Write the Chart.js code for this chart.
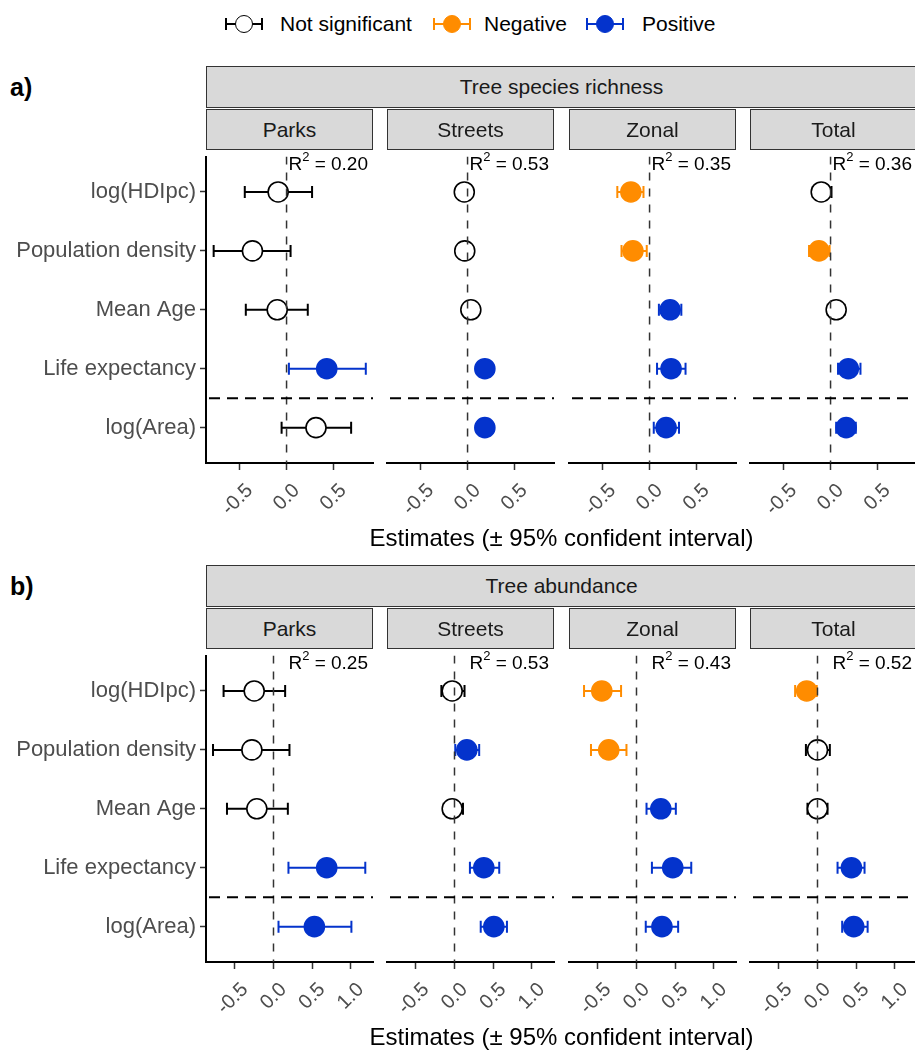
<!DOCTYPE html>
<html><head><meta charset="utf-8">
<script src="https://cdn.jsdelivr.net/npm/chart.js@4.4.0/dist/chart.umd.min.js"></script>
<style>
body{margin:0;background:#fff;width:915px;height:1050px;overflow:hidden;position:relative;font-family:"Liberation Sans",Arial,Helvetica,sans-serif;}
.strip{position:absolute;box-sizing:border-box;background:#d9d9d9;border:1px solid #333;display:flex;align-items:center;justify-content:center;font-size:21px;color:#1a1a1a;white-space:nowrap;}
.txt{position:absolute;white-space:nowrap;}
.r2{position:absolute;font-size:19px;color:#000;white-space:nowrap;text-align:right;line-height:20px;}
.r2 sup{font-size:13px;position:relative;top:-2px;vertical-align:top;line-height:10px;}
canvas{position:absolute;}
.lsym{position:absolute;width:38px;height:20px;}
.lsym .ln{position:absolute;left:0;top:9px;width:38px;height:2px;}
.lsym .cap{position:absolute;top:4px;width:2px;height:12px;}
.lsym .dot{position:absolute;left:10px;top:1px;width:18px;height:18px;box-sizing:border-box;border-radius:50%;border:1.6px solid;}
</style></head><body>
<script>
// ---------- data ----------
const rows = ['log(HDIpc)', 'Population density', 'Mean Age', 'Life expectancy', 'log(Area)'];
const facets = ['Parks', 'Streets', 'Zonal', 'Total'];
const legendLabels = ['Not significant', 'Negative', 'Positive'];
const responses = ['Tree species richness', 'Tree abundance'];
const panelLetters = ['a)', 'b)'];
const axisTitle = 'Estimates (\u00B1 95% confident interval)';

const richnessTicks = [-0.5, 0, 0.5];
const abundanceTicks = [-0.5, 0, 0.5, 1.0];
const richnessR2 = ['0.20', '0.53', '0.35', '0.36'];
const abundanceR2 = ['0.25', '0.53', '0.43', '0.52'];

const richnessEstimate = [
  [-0.09, -0.365, -0.10, 0.43, 0.315],
  [-0.035, -0.03, 0.035, 0.185, 0.185],
  [-0.20, -0.178, 0.22, 0.23, 0.177],
  [-0.10, -0.124, 0.06, 0.19, 0.167]
];
const richnessLower = [
  [-0.447, -0.78, -0.436, 0.025, -0.053],
  [-0.08, -0.08, -0.01, 0.13, 0.13],
  [-0.345, -0.30, 0.10, 0.08, 0.045],
  [-0.19, -0.23, -0.03, 0.08, 0.06]
];
const richnessUpper = [
  [0.273, 0.043, 0.227, 0.848, 0.691],
  [0.01, 0.02, 0.08, 0.24, 0.24],
  [-0.065, -0.03, 0.34, 0.385, 0.315],
  [0.01, -0.01, 0.15, 0.32, 0.27]
];
const richnessEffect = [
  ['ns', 'ns', 'ns', 'pos', 'ns'],
  ['ns', 'ns', 'ns', 'pos', 'pos'],
  ['neg', 'neg', 'pos', 'pos', 'pos'],
  ['ns', 'neg', 'ns', 'pos', 'pos']
];

const abundanceEstimate = [
  [-0.25, -0.28, -0.216, 0.69, 0.53],
  [-0.03, 0.16, -0.03, 0.38, 0.51],
  [-0.45, -0.36, 0.315, 0.47, 0.33],
  [-0.14, 0.0, 0.0, 0.44, 0.47]
];
const abundanceLower = [
  [-0.647, -0.784, -0.603, 0.194, 0.065],
  [-0.17, 0.01, -0.14, 0.20, 0.34],
  [-0.68, -0.59, 0.13, 0.20, 0.12],
  [-0.29, -0.15, -0.13, 0.26, 0.32]
];
const abundanceUpper = [
  [0.151, 0.207, 0.186, 1.19, 1.01],
  [0.13, 0.32, 0.11, 0.58, 0.68],
  [-0.20, -0.13, 0.51, 0.71, 0.54],
  [-0.01, 0.16, 0.13, 0.61, 0.65]
];
const abundanceEffect = [
  ['ns', 'ns', 'ns', 'pos', 'pos'],
  ['ns', 'pos', 'ns', 'pos', 'pos'],
  ['neg', 'neg', 'pos', 'pos', 'pos'],
  ['neg', 'ns', 'ns', 'pos', 'pos']
];

// ---------- styling ----------
const STROKE = {ns: '#000000', neg: '#FF8C00', pos: '#0433CC'};
const FILL = {ns: '#FFFFFF', neg: '#FF8C00', pos: '#0433CC'};
const FONT = '"Liberation Sans", Arial, Helvetica, sans-serif';

const blocks = [
  {title: responses[0], letter: panelLetters[0], est: richnessEstimate, lo: richnessLower, hi: richnessUpper,
   eff: richnessEffect, r2: richnessR2, ticks: richnessTicks, range: [-0.862, 0.925], top: 150},
  {title: responses[1], letter: panelLetters[1], est: abundanceEstimate, lo: abundanceLower, hi: abundanceUpper,
   eff: abundanceEffect, r2: abundanceR2, ticks: abundanceTicks, range: [-0.875, 1.29], top: 649}
];
const PANEL_LEFT = [206, 387, 569, 750];
const PANEL_W = 167;
const PLOT_H = 313;
const XAXIS_H = 80;

function el(tag, cls, css, html) {
  const e = document.createElement(tag);
  if (cls) e.className = cls;
  Object.assign(e.style, css || {});
  if (html !== undefined) e.innerHTML = html;
  document.body.appendChild(e);
  return e;
}

// legend
const legendKeys = ['ns', 'neg', 'pos'];
const symX = [225, 433, 586];
const textX = [280, 484, 642];
legendKeys.forEach((k, i) => {
  const s = el('div', 'lsym', {left: symX[i] + 'px', top: '14px'});
  s.innerHTML = '<div class="ln" style="background:' + STROKE[k] + '"></div>' +
    '<div class="cap" style="left:0;background:' + STROKE[k] + '"></div>' +
    '<div class="cap" style="left:36px;background:' + STROKE[k] + '"></div>' +
    '<div class="dot" style="border-color:' + STROKE[k] + ';background:' + FILL[k] + '"></div>';
  el('div', 'txt', {left: textX[i] + 'px', top: '11px', fontSize: '21px', lineHeight: '26px', color: '#000'}, legendLabels[i]);
});

const errorBarPlugin = {
  id: 'errorBars',
  beforeDatasetsDraw(chart) {
    const ds = chart.data.datasets[0];
    const xs = chart.scales.x, ys = chart.scales.y;
    const ctx = chart.ctx;
    ctx.save();
    ds.lower.forEach((lo, i) => {
      const y = ys.getPixelForValue(i + 1);
      const x1 = xs.getPixelForValue(lo);
      const x2 = xs.getPixelForValue(ds.upper[i]);
      ctx.strokeStyle = STROKE[ds.effect[i]];
      ctx.lineWidth = 2;
      ctx.setLineDash([]);
      ctx.beginPath();
      ctx.moveTo(x1, y); ctx.lineTo(x2, y);
      ctx.moveTo(x1, y - 6); ctx.lineTo(x1, y + 6);
      ctx.moveTo(x2, y - 6); ctx.lineTo(x2, y + 6);
      ctx.stroke();
    });
    ctx.restore();
  }
};
const refLinePlugin = {
  id: 'refLines',
  afterDatasetsDraw(chart) {
    const xs = chart.scales.x, ys = chart.scales.y;
    const a = chart.chartArea;
    const ctx = chart.ctx;
    ctx.save();
    ctx.beginPath(); ctx.rect(a.left, a.top, a.right - a.left, a.bottom - a.top); ctx.clip();
    const x0 = xs.getPixelForValue(0);
    ctx.strokeStyle = '#333'; ctx.lineWidth = 1.5; ctx.setLineDash([8, 8]);
    ctx.beginPath(); ctx.moveTo(x0, a.top); ctx.lineTo(x0, a.bottom); ctx.stroke();
    const yh = ys.getPixelForValue(4.5);
    ctx.strokeStyle = '#000'; ctx.lineWidth = 2; ctx.setLineDash([11, 7]);
    ctx.beginPath(); ctx.moveTo(a.left + 3, yh); ctx.lineTo(a.right, yh); ctx.stroke();
    ctx.restore();
  }
};

blocks.forEach((b) => {
  const T = b.top;
  // letter
  el('div', 'txt', {left: '10px', top: (T - 78) + 'px', fontSize: '25px', fontWeight: 'bold', lineHeight: '30px'}, b.letter);
  // top strip
  el('div', 'strip', {left: '206px', top: (T - 84) + 'px', width: '711px', height: '42px'}, b.title);
  facets.forEach((f, k) => {
    const L = PANEL_LEFT[k];
    el('div', 'strip', {left: L + 'px', top: (T - 41) + 'px', width: PANEL_W + 'px', height: '41px'}, f);
    // canvas
    const cv = document.createElement('canvas');
    const padL = k === 0 ? 0 : 50;
    const cLeft = k === 0 ? 0 : L - padL;
    const cW = (k === 0 ? L : padL) + PANEL_W + 20;
    cv.width = cW; cv.height = 5 + PLOT_H + XAXIS_H;
    cv.style.left = cLeft + 'px'; cv.style.top = (T - 5) + 'px';
    document.body.appendChild(cv);
    const est = b.est[k];
    const isFirst = k === 0;
    new Chart(cv, {
      type: 'scatter',
      data: {
        datasets: [{
          data: est.map((v, i) => ({x: v, y: i + 1})),
          lower: b.lo[k], upper: b.hi[k], effect: b.eff[k],
          pointRadius: 10, pointHoverRadius: 10, pointBorderWidth: 1.6,
          pointBackgroundColor: b.eff[k].map(e => FILL[e]),
          pointBorderColor: b.eff[k].map(e => STROKE[e]),
          showLine: false, clip: false
        }]
      },
      options: {
        responsive: false, animation: false, events: [], devicePixelRatio: 1,
        layout: {padding: {left: padL, right: 20, top: 5, bottom: 0}},
        plugins: {legend: {display: false}, tooltip: {enabled: false}},
        scales: {
          x: {
            type: 'linear', position: 'bottom', min: b.range[0], max: b.range[1],
            afterBuildTicks: s => { s.ticks = b.ticks.map(v => ({value: v})); },
            afterFit: s => { s.height = XAXIS_H; s.paddingLeft = 0; s.paddingRight = 0; },
            ticks: {autoSkip: false, minRotation: 45, maxRotation: 45, padding: 9, labelOffset: 10, color: '#4D4D4D',
              font: {family: FONT, size: 20}, callback: v => Number(v).toFixed(1)},
            grid: {drawOnChartArea: false, drawTicks: true, tickLength: 7, tickWidth: 1.5, tickColor: '#333'},
            border: {display: true, color: '#000', width: 2}
          },
          y: {
            type: 'linear', reverse: true, min: 0.4, max: 5.6, display: isFirst,
            afterBuildTicks: s => { s.ticks = rows.map((r, i) => ({value: i + 1})); },
            afterFit: s => { if (isFirst) { s.width = L; } s.paddingTop = 0; s.paddingBottom = 0; },
            ticks: {autoSkip: false, padding: 4, color: '#4D4D4D', font: {family: FONT, size: 22},
              callback: v => rows[Math.round(v) - 1]},
            grid: {drawOnChartArea: false, drawTicks: true, tickLength: 6, tickWidth: 1.5, tickColor: '#333'},
            border: {display: true, color: '#000', width: 2}
          }
        }
      },
      plugins: [errorBarPlugin, refLinePlugin]
    });
    // R2 label
    el('div', 'r2', {left: (L + PANEL_W - 5 - 120) + 'px', width: '120px', top: (T + 4) + 'px'},
      'R<sup>2</sup> = ' + b.r2[k]);
  });
  // axis title
  el('div', 'txt', {left: '206px', width: '711px', textAlign: 'center', top: (T + 374) + 'px',
    fontSize: '24px', lineHeight: '28px', color: '#000'}, axisTitle);
});
</script>
</body></html>
